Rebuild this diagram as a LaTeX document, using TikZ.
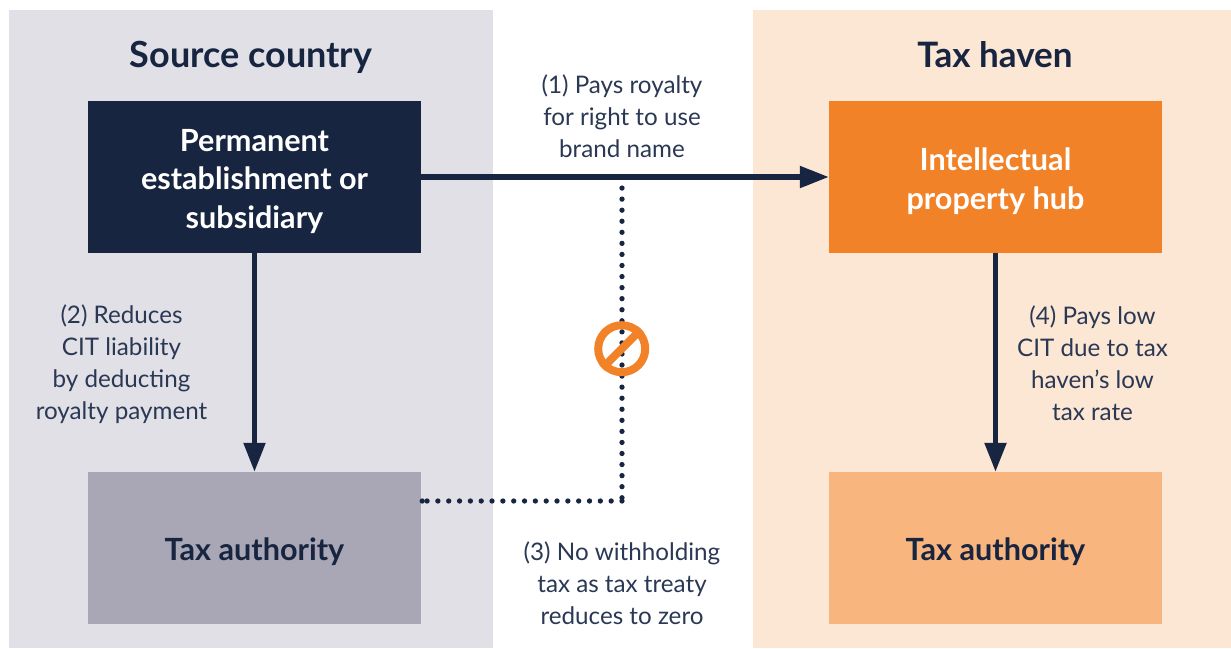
\documentclass[tikz,border=0pt]{standalone}
\usepackage{fontspec}
\setmainfont{Lato}
\usetikzlibrary{arrows.meta}
\definecolor{navyBox}{HTML}{172540}
\definecolor{navyText}{HTML}{2A3854}
\definecolor{orangeBox}{HTML}{F28227}
\definecolor{sourceBand}{HTML}{E1E0E6}
\definecolor{havenBand}{HTML}{FCE6D4}
\definecolor{sourceTax}{HTML}{A9A7B5}
\definecolor{havenTax}{HTML}{F8B57E}
\tikzset{
  bandBox/.style={rectangle,inner sep=0pt,minimum width=#1,minimum height=638pt},
  mainBox/.style={rectangle,inner sep=0pt,minimum width=333pt,minimum height=152pt},
  boxLabel/.style={align=center,yshift=-4pt,font=\fontsize{30.6}{38.5}\selectfont\bfseries},
  headLabel/.style={text=navyBox,anchor=base,font=\fontsize{#1}{40}\selectfont\bfseries},
  stepLabel/.style={text=navyText,align=center,font=\fontsize{24.2}{32}\selectfont},
  flowArrow/.style={draw=navyBox,line width=5.3pt,-{Triangle[length=29pt,width=21pt]}},
  dotLine/.style={draw=navyBox,line width=5.3pt,line cap=round},
}
\begin{document}
\begin{tikzpicture}[x=1pt,y=-1pt]
  \useasboundingbox (0,0) rectangle (1231,648);
  \node[bandBox=484pt,fill=sourceBand] (sourceBand) at (251,329) {};
  \node[bandBox=478pt,fill=havenBand] (havenBand) at (992,329) {};
  \node[headLabel=36] (sourceHead) at (251,67) {Source country};
  \node[headLabel=35] (havenHead) at (995,67) {Tax haven};
  \node[mainBox,fill=navyBox] (permBox) at (254.5,177) {};
  \node[mainBox,fill=orangeBox] (hubBox) at (995.5,177) {};
  \node[mainBox,fill=sourceTax] (sourceAuth) at (254.5,548) {};
  \node[mainBox,fill=havenTax] (havenAuth) at (995.5,548) {};
  \node[boxLabel,text=white] (permText) at (permBox) {Permanent\\establishment or\\subsidiary};
  \node[boxLabel,text=white] (hubText) at (hubBox) {Intellectual\\property hub};
  \node[boxLabel,text=navyBox] (sourceAuthText) at (sourceAuth) {Tax authority};
  \node[boxLabel,text=navyBox] (havenAuthText) at (havenAuth) {Tax authority};
  \coordinate (dotTop) at (622,177);
  \coordinate (dotCorner) at (622,501);
  \coordinate (dotEnd) at (sourceAuth.east |- dotCorner);
  \draw[dotLine,dash pattern=on 0pt off 11.06pt] (dotTop) -- (dotCorner);
  \draw[dotLine,dash pattern=on 0pt off 10.83pt] (dotCorner) -- (dotEnd);
  \fill[navyBox] (dotEnd) ++(1,0) circle (2.65pt);
  \draw[flowArrow] (permBox) -- (hubBox);
  \draw[flowArrow] (permBox) -- (sourceAuth);
  \draw[flowArrow] (hubBox) -- (havenAuth);
  \node[circle,draw=orangeBox,line width=8pt,minimum size=47pt,inner sep=0pt] (noSign) at (621.7,348.7) {};
  \draw[orangeBox,line width=8pt] (noSign.south west) -- (noSign.north east);
  \node[stepLabel] (stepOne) at (622,116) {(1) Pays royalty\\for right to use\\brand name};
  \node[stepLabel] (stepTwo) at (121.5,364) {(2) Reduces\\CIT liability\\by deducting\\royalty payment};
  \node[stepLabel] (stepThree) at (622,583) {(3) No withholding\\tax as tax treaty\\reduces to zero};
  \node[stepLabel] (stepFour) at (1092.5,363) {(4) Pays low\\CIT due to tax\\haven’s low\\tax rate};
\end{tikzpicture}
\end{document}
